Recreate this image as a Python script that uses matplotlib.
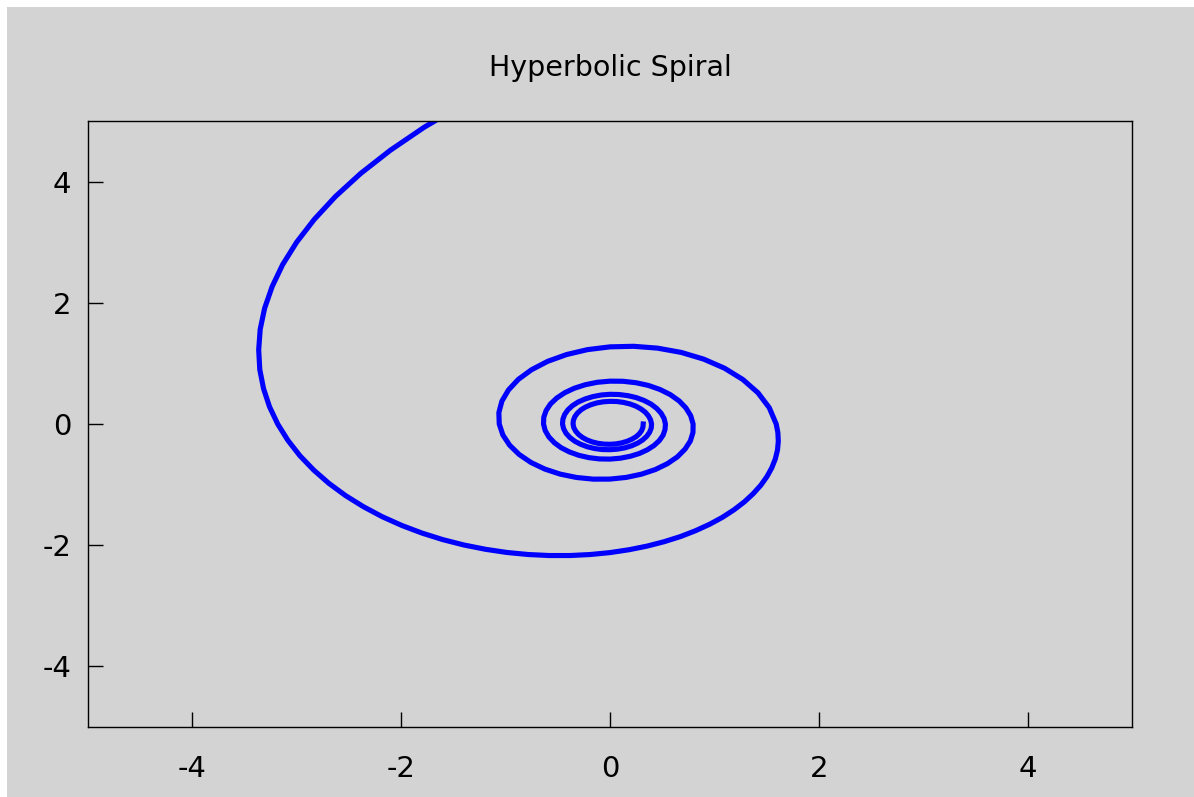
import numpy as np
import matplotlib
matplotlib.use("Agg")
import matplotlib.pyplot as plt
from matplotlib.patches import Rectangle

plt.rcParams["axes.unicode_minus"] = False

# =========================================================
# DATA (polar samples)
# =========================================================

# outer sweep, 5 degree steps
angle_outer = [
    105, 110, 115, 120, 125, 130, 135, 140, 145, 150, 155, 160, 165, 170,
    175, 180, 185, 190, 195, 200, 205, 210, 215, 220, 225, 230, 235, 240,
    245, 250, 255, 260, 265, 270, 275, 280, 285, 290, 295, 300, 305, 310,
    315, 320, 325, 330, 335, 340, 345, 350, 355, 360,
]

radius_outer = [
    5.457, 5.209, 4.982, 4.775, 4.584, 4.407, 4.244, 4.093, 3.951, 3.820,
    3.697, 3.581, 3.473, 3.370, 3.274, 3.183, 3.097, 3.016, 2.938, 2.865,
    2.795, 2.728, 2.665, 2.604, 2.546, 2.491, 2.438, 2.387, 2.339, 2.292,
    2.247, 2.204, 2.162, 2.122, 2.083, 2.046, 2.010, 1.976, 1.942, 1.910,
    1.879, 1.848, 1.819, 1.790, 1.763, 1.736, 1.710, 1.685, 1.661, 1.637,
    1.614, 1.592,
]

# inner turns, 10 degree steps
angle_inner = [
    370, 380, 390, 400, 410, 420, 430, 440, 450, 460, 470, 480, 490, 500,
    510, 520, 530, 540, 550, 560, 570, 580, 590, 600, 610, 620, 630, 640,
    650, 660, 670, 680, 690, 700, 710, 720, 730, 740, 750, 760, 770, 780,
    790, 800, 810, 820, 830, 840, 850, 860, 870, 880, 890, 900, 910, 920,
    930, 940, 950, 960, 970, 980, 990, 1000, 1010, 1020, 1030, 1040, 1050,
    1060, 1070, 1080, 1090, 1100, 1110, 1120, 1130, 1140, 1150, 1160, 1170,
    1180, 1190, 1200, 1210, 1220, 1230, 1240, 1250, 1260, 1270, 1280, 1290,
    1300, 1310, 1320, 1330, 1340, 1350, 1360, 1370, 1380, 1390, 1400, 1410,
    1420, 1430, 1440, 1450, 1460, 1470, 1480, 1490, 1500, 1510, 1520, 1530,
    1540, 1550, 1560, 1570, 1580, 1590, 1600, 1610, 1620, 1630, 1640, 1650,
    1660, 1670, 1680, 1690, 1700, 1710, 1720, 1730, 1740, 1750, 1760, 1770,
    1780, 1790, 1800,
]

radius_inner = [
    1.549, 1.508, 1.469, 1.432, 1.397, 1.364, 1.332, 1.302, 1.273, 1.246,
    1.219, 1.194, 1.169, 1.146, 1.123, 1.102, 1.081, 1.061, 1.042, 1.023,
    1.005, 0.988, 0.971, 0.955, 0.939, 0.924, 0.909, 0.895, 0.881, 0.868,
    0.855, 0.843, 0.830, 0.819, 0.807, 0.796, 0.785, 0.774, 0.764, 0.754,
    0.744, 0.735, 0.725, 0.716, 0.707, 0.699, 0.690, 0.682, 0.674, 0.666,
    0.659, 0.651, 0.644, 0.637, 0.630, 0.623, 0.616, 0.610, 0.603, 0.597,
    0.591, 0.585, 0.579, 0.573, 0.567, 0.562, 0.556, 0.551, 0.546, 0.541,
    0.535, 0.531, 0.526, 0.521, 0.516, 0.512, 0.507, 0.503, 0.498, 0.494,
    0.490, 0.486, 0.481, 0.477, 0.474, 0.470, 0.466, 0.462, 0.458, 0.455,
    0.451, 0.448, 0.444, 0.441, 0.437, 0.434, 0.431, 0.428, 0.424, 0.421,
    0.418, 0.415, 0.412, 0.409, 0.406, 0.403, 0.401, 0.398, 0.395, 0.392,
    0.390, 0.387, 0.385, 0.382, 0.379, 0.377, 0.374, 0.372, 0.370, 0.367,
    0.365, 0.363, 0.360, 0.358, 0.356, 0.354, 0.352, 0.349, 0.347, 0.345,
    0.343, 0.341, 0.339, 0.337, 0.335, 0.333, 0.331, 0.329, 0.327, 0.326,
    0.324, 0.322, 0.320, 0.318,
]

x_ticks = [-4, -2, 0, 2, 4]
y_ticks = [-4, -2, 0, 2, 4]

title = "Hyperbolic Spiral"

# =========================================================
# FIGURE
# =========================================================

fig = plt.figure(figsize=(11.94, 7.97), dpi=100, facecolor="white")

# gray panel, leaving a thin white strip at top and left
fig.patches.append(
    Rectangle(
        (7 / 1194, 0),
        1 - 7 / 1194,
        1 - 7 / 797,
        transform=fig.transFigure,
        facecolor="#d3d3d3",
        edgecolor="none",
        zorder=-10
    )
)

ax = fig.add_axes([88 / 1194, 1 - 727 / 797, 1044 / 1194, 606 / 797])
ax.set_facecolor("#d3d3d3")

theta = np.radians(angle_outer + angle_inner)
r = np.array(radius_outer + radius_inner)

ax.plot(
    r * np.cos(theta),
    r * np.sin(theta),
    color="#0000ff",
    linewidth=3.7
)

ax.set_xlim(-5, 5)
ax.set_ylim(-5, 5)

ax.set_xticks(x_ticks)
ax.set_yticks(y_ticks)

ax.tick_params(
    direction="in",
    length=10.5,
    width=1,
    labelsize=21,
    colors="black",
    top=False,
    right=False
)
ax.tick_params(axis="x", pad=20)
ax.tick_params(axis="y", pad=12)

for spine in ax.spines.values():
    spine.set_linewidth(1.0)
    spine.set_color("black")

fig.text(
    610 / 1194,
    1 - 76 / 797,
    title,
    ha="center",
    va="baseline",
    fontsize=20.5
)

fig.savefig("out.png", dpi=100, facecolor=fig.get_facecolor())
